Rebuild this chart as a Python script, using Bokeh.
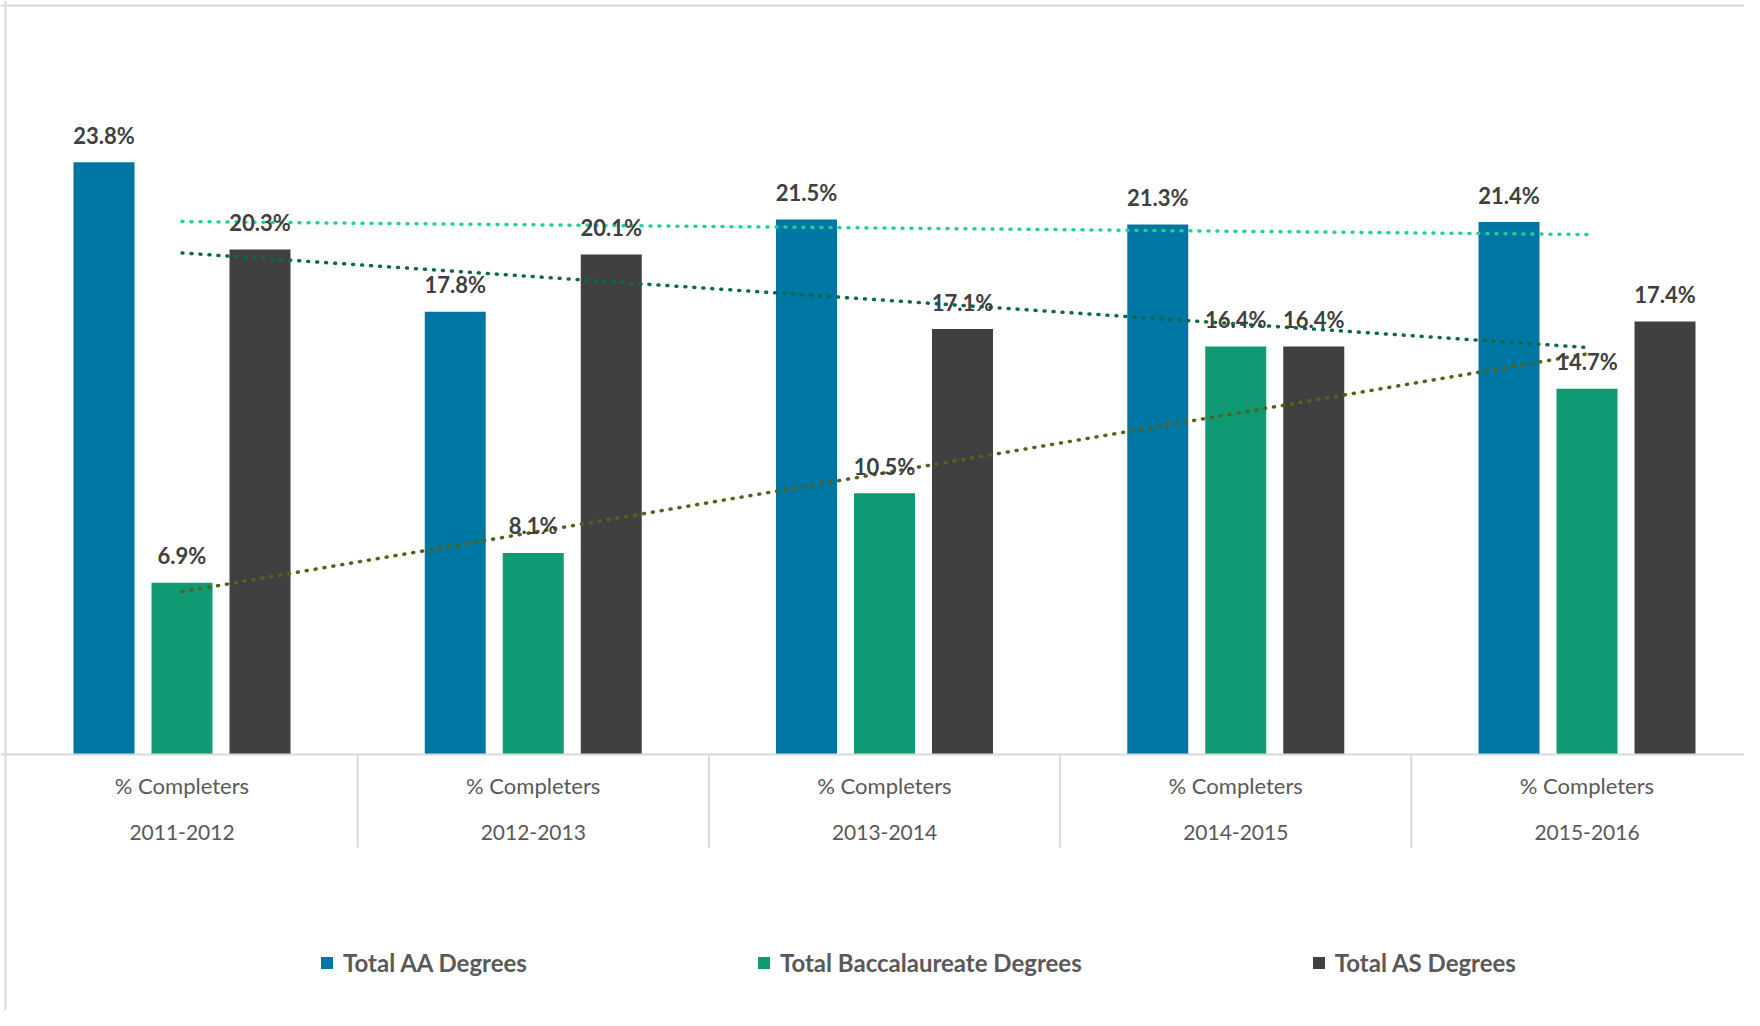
import numpy as np
from bokeh.plotting import figure
from bokeh.models import Span, Legend, LegendItem
from bokeh.core.properties import value
from bokeh.embed import file_html
from bokeh.resources import INLINE

# ---- data -------------------------------------------------------------
years = ["2011-2012", "2012-2013", "2013-2014", "2014-2015", "2015-2016"]
category_label = "% Completers"
aa_degrees = [23.8, 17.8, 21.5, 21.3, 21.4]
bacc_degrees = [6.9, 8.1, 10.5, 16.4, 14.7]
as_degrees = [20.3, 20.1, 17.1, 16.4, 17.4]
series_names = ["Total AA Degrees", "Total Baccalaureate Degrees", "Total AS Degrees"]

# ---- style ------------------------------------------------------------
bar_colors = ["#0076A3", "#109A74", "#404040"]
trend_colors = ["#1ED39B", "#56621C", "#0C6A4A"]
W, H = 1744, 1010
PX_X = 351.25          # pixels per category
PX_Y = 24.88           # pixels per percentage point
LEFT = 5.875           # pixel column of x = 0
BASE = 754             # pixel row of the 0 baseline
x_start = -LEFT / PX_X
x_end = (W - LEFT) / PX_X
y_end = BASE / PX_Y
y_start = -(H - BASE) / PX_Y

p = figure(width=W, height=H, x_range=(x_start, x_end), y_range=(y_start, y_end),
           output_backend="svg", toolbar_location=None,
           x_axis_type=None, y_axis_type=None, min_border=0)
p.outline_line_color = None
p.background_fill_color = "white"
p.border_fill_color = "white"

n = len(years)
centers = np.arange(n) + 0.5
offsets = [-78 / PX_X, 0.0, 78 / PX_X]
bw = 61 / PX_X
series = [aa_degrees, bacc_degrees, as_degrees]

# chart border (top / left) and category axis line
p.add_layout(Span(location=(5 - LEFT) / PX_X, dimension="height",
                  line_color="#D9D9D9", line_width=2))
p.add_layout(Span(location=(BASE - 5) / PX_Y, dimension="width",
                  line_color="#D9D9D9", line_width=2))
p.add_layout(Span(location=0, dimension="width", line_color="#D9D9D9", line_width=2))

# category separators
bounds = list(range(1, n))
p.segment(x0=bounds, y0=[0] * len(bounds), x1=bounds, y1=[-93 / PX_Y] * len(bounds),
          line_color="#D9D9D9", line_width=2)

# bars
bar_renderers = []
for vals, off, col in zip(series, offsets, bar_colors):
    r = p.vbar(x=centers + off, top=vals, width=bw, fill_color=col, line_color=None)
    bar_renderers.append(r)

# linear trendlines
for vals, tc in zip(series, trend_colors):
    coef = np.polyfit(centers, vals, 1)
    xx = [centers[0], centers[-1]]
    p.line(x=xx, y=np.polyval(coef, xx), line_color=tc, line_width=3.5,
           line_dash="1 8", line_cap="round")

# data labels
for vals, off in zip(series, offsets):
    p.text(x=centers + off, y=np.array(vals) + 27 / PX_Y,
           text=[f"{v:.1f}%" for v in vals],
           text_align="center", text_baseline="alphabetic",
           text_font=value("Lato"), text_font_style="bold",
           text_font_size="22px", text_color="#404040")

# category labels
p.text(x=centers, y=[-31 / PX_Y] * n, text=[category_label] * n,
       text_align="center", text_baseline="alphabetic",
       text_font=value("Lato"), text_font_size="22px", text_color="#595959")
p.text(x=centers, y=[-78 / PX_Y] * n, text=years,
       text_align="center", text_baseline="alphabetic",
       text_font=value("Lato"), text_font_size="21px", text_color="#595959")

legend = Legend(items=[LegendItem(label=nm, renderers=[r])
                       for nm, r in zip(series_names, bar_renderers)],
                orientation="horizontal", location=(319, 33), spacing=229,
                glyph_width=15, glyph_height=15, label_standoff=9,
                label_text_font="Lato", label_text_font_style="bold",
                label_text_font_size="24px", label_text_color="#595959",
                border_line_color=None, background_fill_alpha=0,
                padding=0, margin=0)
p.add_layout(legend)

open("out.html", "w").write(file_html(p, INLINE))
